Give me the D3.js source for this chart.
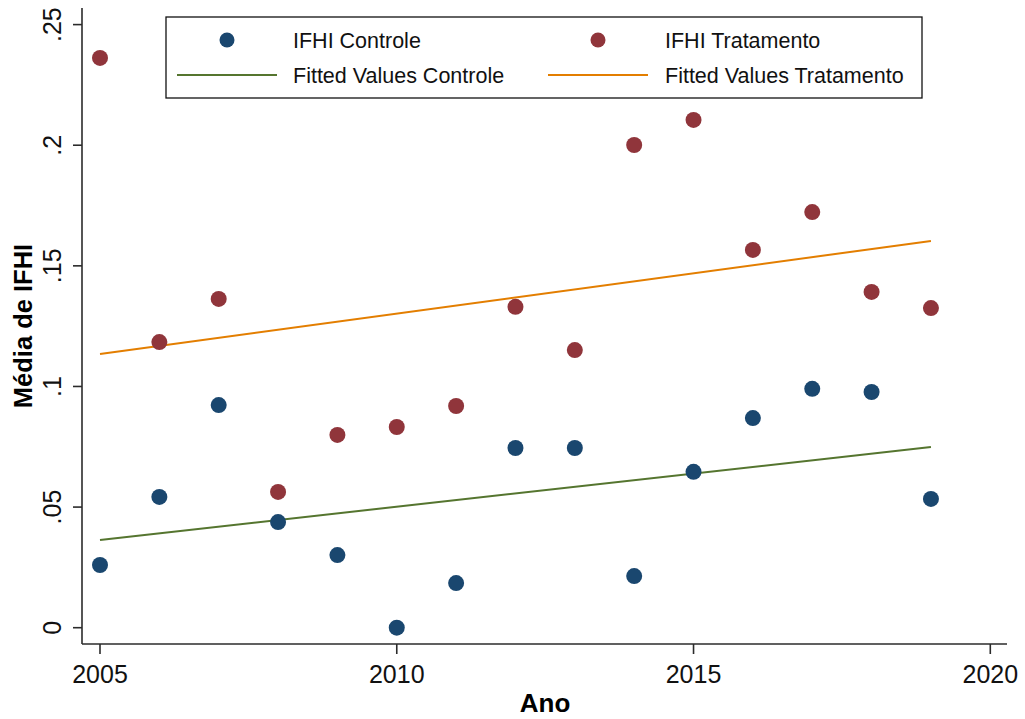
<!DOCTYPE html>
<html>
<head>
<meta charset="utf-8">
<script src="https://cdn.jsdelivr.net/npm/d3@7"></script>
<style>
  body { margin: 0; background: #fff; }
  svg { display: block; font-family: Arial, "Liberation Sans", sans-serif; }
</style>
</head>
<body>
<div id="container"><svg></svg></div>
<script>
let width = 1025;
let height = 719;

// data
let years = [2005, 2006, 2007, 2008, 2009, 2010, 2011, 2012, 2013, 2014, 2015, 2016, 2017, 2018, 2019];
let controle = [0.026, 0.0542, 0.0923, 0.0438, 0.0301, 0.0, 0.0185, 0.0745, 0.0745, 0.0214, 0.0646, 0.0869, 0.099, 0.0977, 0.0534];
let tratamento = [0.2362, 0.1184, 0.1363, 0.0563, 0.0799, 0.0832, 0.0919, 0.133, 0.1151, 0.2001, 0.2105, 0.1566, 0.1723, 0.1392, 0.1325];
let fitYears = [2005, 2019];
let fitControle = [0.0364, 0.0749];
let fitTratamento = [0.1135, 0.1603];
let xTicks = [2005, 2010, 2015, 2020];
let yTicks = [0, 0.05, 0.1, 0.15, 0.2, 0.25];
let yTickLabels = ["0", ".05", ".1", ".15", ".2", ".25"];

let colBlue = "#1a476f", colRed = "#90353b", colGreen = "#55752f", colOrange = "#e37e00";

let svg = d3.select('#container').select('svg')
    .attr('width', width)
    .attr('height', height);

let x = d3.scaleLinear().domain([2005, 2020]).range([100, 990.3]);
let y = d3.scaleLinear().domain([0, 0.25]).range([627.7, 24.6]);

let axisX0 = 82, axisY0 = 644;

// axes lines
svg.append("line").attr("x1", axisX0).attr("x2", axisX0).attr("y1", 8).attr("y2", axisY0)
    .attr("stroke", "#2b2b2b").attr("stroke-width", 1.6);
svg.append("line").attr("x1", axisX0).attr("x2", 1007).attr("y1", axisY0).attr("y2", axisY0)
    .attr("stroke", "#2b2b2b").attr("stroke-width", 1.6);

// y ticks
let yg = svg.append("g");
yg.selectAll("line").data(yTicks).join("line")
    .attr("x1", axisX0 - 9).attr("x2", axisX0)
    .attr("y1", d => y(d)).attr("y2", d => y(d))
    .attr("stroke", "#2b2b2b").attr("stroke-width", 1.6);
yg.selectAll("text").data(yTicks).join("text")
    .attr("transform", d => `translate(61,${y(d)}) rotate(-90)`)
    .attr("text-anchor", "middle")
    .attr("font-size", 25)
    .attr("fill", "#111")
    .text((d, i) => yTickLabels[i]);

// x ticks
let xg = svg.append("g");
xg.selectAll("line").data(xTicks).join("line")
    .attr("x1", d => x(d)).attr("x2", d => x(d))
    .attr("y1", axisY0).attr("y2", axisY0 + 10)
    .attr("stroke", "#2b2b2b").attr("stroke-width", 1.6);
xg.selectAll("text").data(xTicks).join("text")
    .attr("x", d => x(d)).attr("y", 683)
    .attr("text-anchor", "middle")
    .attr("font-size", 25)
    .attr("fill", "#111")
    .text(d => d);

// axis titles
svg.append("text").attr("x", 545).attr("y", 712)
    .attr("text-anchor", "middle").attr("font-size", 26).attr("font-weight", "bold")
    .text("Ano");
svg.append("text").attr("transform", "translate(32,326) rotate(-90)")
    .attr("text-anchor", "middle").attr("font-size", 25.5).attr("font-weight", "bold")
    .text("Média de IFHI");

// fitted lines
let line = d3.line().x(d => x(d[0])).y(d => y(d[1]));
svg.append("path").datum(fitYears.map((d, i) => [d, fitControle[i]]))
    .attr("d", line).attr("fill", "none").attr("stroke", colGreen).attr("stroke-width", 2);
svg.append("path").datum(fitYears.map((d, i) => [d, fitTratamento[i]]))
    .attr("d", line).attr("fill", "none").attr("stroke", colOrange).attr("stroke-width", 2);

// points
svg.append("g").selectAll("circle").data(years).join("circle")
    .attr("cx", d => x(d)).attr("cy", (d, i) => y(controle[i]))
    .attr("r", 8).attr("fill", colBlue);
svg.append("g").selectAll("circle").data(years).join("circle")
    .attr("cx", d => x(d)).attr("cy", (d, i) => y(tratamento[i]))
    .attr("r", 8).attr("fill", colRed);

// legend
let lg = svg.append("g");
lg.append("rect").attr("x", 166).attr("y", 17).attr("width", 756).attr("height", 81)
    .attr("fill", "#fff").attr("stroke", "#111").attr("stroke-width", 1.3);
let legendItems = [
    {type: "dot", color: colBlue, label: "IFHI Controle", lx: 227, tx: 293, ly: 40},
    {type: "dot", color: colRed, label: "IFHI Tratamento", lx: 598, tx: 665, ly: 40},
    {type: "line", color: colGreen, label: "Fitted Values Controle", lx: 227, tx: 293, ly: 75},
    {type: "line", color: colOrange, label: "Fitted Values Tratamento", lx: 598, tx: 665, ly: 75}
];
legendItems.forEach(it => {
    if (it.type == "dot") {
        lg.append("circle").attr("cx", it.lx).attr("cy", it.ly).attr("r", 7.5).attr("fill", it.color);
    } else {
        lg.append("line").attr("x1", it.lx - 50).attr("x2", it.lx + 50)
            .attr("y1", it.ly).attr("y2", it.ly)
            .attr("stroke", it.color).attr("stroke-width", 2);
    }
    lg.append("text").attr("x", it.tx).attr("y", it.ly + 8)
        .attr("font-size", 21.5).attr("fill", "#111").text(it.label);
});
</script>
</body>
</html>
